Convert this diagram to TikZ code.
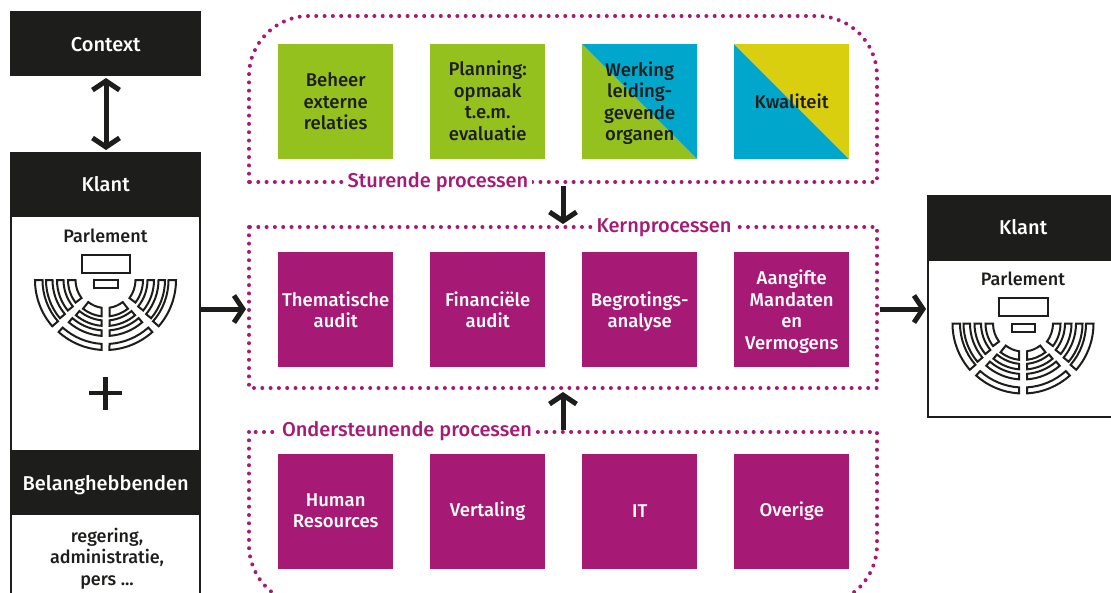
\documentclass[tikz,border=0pt]{standalone}
\usepackage{fontspec}
\setmainfont{Fira Sans Medium}
\usetikzlibrary{arrows.meta,calc}
\definecolor{ink}{HTML}{1D1D1B}
\definecolor{plum}{HTML}{A61A75}
\definecolor{leaf}{HTML}{95C11F}
\definecolor{sky}{HTML}{00A6CB}
\definecolor{mustard}{HTML}{DACF0F}
\tikzset{
  x=1pt,y=1pt,
  tile/.style={minimum width=115pt,minimum height=115pt,inner sep=0pt,align=center,anchor=north west,font=\fontsize{18.5}{21.4}\selectfont},
  plumtile/.style={tile,fill=plum,text=white},
  greentile/.style={tile,fill=leaf,text=ink},
  header/.style={fill=ink,text=white,inner sep=0pt,font=\fontsize{20}{23}\selectfont},
  panel/.style={draw=ink,line width=2.2pt,fill=white},
  dotline/.style={draw=plum,line width=4pt,line cap=round,dash pattern=on 0pt off 8.3pt},
  proclabel/.style={fill=white,text=plum,inner sep=4pt,font=\fontsize{20}{22}\selectfont},
  flow/.style={draw=ink,line width=5pt,-{Straight Barb[length=9pt,width=27pt,line width=5pt]}},
  flowboth/.style={draw=ink,line width=5pt,{Straight Barb[length=9pt,width=27pt,line width=5pt]}-{Straight Barb[length=9pt,width=27pt,line width=5pt]}},
  seat/.style={draw=ink,line width=2pt,fill=white},
  smalltext/.style={text=ink,align=center,font=\fontsize{18}{21.5}\selectfont}
}
\newcommand{\tl}[2]{\raisebox{#1}[\height][\depth]{\parbox{115pt}{\centering #2}}}
\newcommand{\hl}[2]{\raisebox{#1}[\height][\depth]{#2}}
\newcommand{\seatband}[4]{% r1 r2 a1 a2
  \draw[seat] (#3:#1) arc[start angle=#3,end angle=#4,radius=#1] -- (#4:#2) arc[start angle=#4,end angle=#3,radius=#2] -- cycle;}
\newcommand{\midband}[3]{% r1 r2 a: left centre band and right mirror
  \pgfmathsetmacro{\eo}{asin(4/#1)}\pgfmathsetmacro{\ei}{asin(4/#2)}
  \pgfmathsetmacro{\lA}{270-\eo}\pgfmathsetmacro{\lB}{270-\ei}
  \pgfmathsetmacro{\rA}{270+\eo}\pgfmathsetmacro{\rB}{270+\ei}
  \pgfmathsetmacro{\mA}{540-#3}
  \draw[seat] (#3:#1) arc[start angle=#3,end angle=\lA,radius=#1] -- (\lB:#2) arc[start angle=\lB,end angle=#3,radius=#2] -- cycle;
  \draw[seat] (\mA:#1) arc[start angle=\mA,end angle=\rA,radius=#1] -- (\rB:#2) arc[start angle=\rB,end angle=\mA,radius=#2] -- cycle;}
\newcommand{\parliament}[2]{%
 \begin{scope}[shift={(#1,#2)}]
  \draw[seat] (-24,25.3) rectangle (24.5,7.3);
  \draw[seat] (-11.3,-0.3) rectangle (12.2,-8.3);
  \seatband{70.5}{63}{180}{221}\seatband{59.5}{53}{180}{220}\seatband{48.5}{42}{180}{219}\seatband{37.5}{30}{180}{217}
  \seatband{70.5}{63}{360}{319}\seatband{59.5}{53}{360}{320}\seatband{48.5}{42}{360}{321}\seatband{37.5}{30}{360}{323}
  \midband{70}{64}{228}\midband{56}{50.5}{229}\midband{46}{40.5}{230}\midband{36.5}{28}{232}
 \end{scope}}
\begin{document}
\begin{tikzpicture}
\useasboundingbox (0,0) rectangle (1111,-592);
\clip (0,0) rectangle (1111,-592);
% left column
\node[header,minimum width=191pt,minimum height=65pt,anchor=north west] (context) at (10,-11) {\hl{-1pt}{Context}};
\node[panel,minimum width=188.8pt,minimum height=460pt,anchor=north west,inner sep=0pt] (klantpanel) at (10,-152) {};
\node[header,minimum width=191pt,minimum height=65pt,anchor=north west] (klant) at (10,-152) {\hl{1pt}{Klant}};
\node[smalltext] (parl) at (105.5,-236) {Parlement};
\parliament{105.5}{-280}
\node[inner sep=0pt] (plus) at (105.5,-393) {};
\draw[ink,line width=4.6pt] (89,-393) -- (122,-393) (105.5,-376.5) -- (105.5,-409.5);
\node[header,minimum width=191pt,minimum height=65pt,anchor=north west] (belang) at (10,-450) {\hl{-2pt}{Belanghebbenden}};
\node[smalltext] (reg) at (107,-558.5) {regering,\\administratie,\\pers ...};
% right column
\node[panel,minimum width=200pt,minimum height=220.8pt,anchor=north west,inner sep=0pt] (klantpanelr) at (927,-195) {};
\node[header,minimum width=200pt,minimum height=66pt,anchor=north west] (klantr) at (927,-195) {\hspace*{-8pt}\hl{1pt}{Klant}};
\node[smalltext] (parlr) at (1023,-279) {Parlement};
\parliament{1023}{-323.5}
% dotted frames
\draw[dotline] (249,-182) -- (249,-76) arc[start angle=180,end angle=90,radius=60] -- (817,-16) arc[start angle=90,end angle=0,radius=60] -- (877,-182) -- cycle;
\draw[dotline] (249,-227) rectangle (877,-388);
\draw[dotline] (249,-432) -- (249,-545) arc[start angle=180,end angle=270,radius=60] -- (817,-605) arc[start angle=270,end angle=360,radius=60] -- (877,-432) -- cycle;
% labels
\node[proclabel] (sturend) at (438,-182) {Sturende processen};
\node[proclabel] (kern) at (664,-228) {Kernprocessen};
\node[proclabel] (onder) at (407,-431) {Ondersteunende processen};
% top tiles
\node[greentile] (t1) at (278,-44) {\tl{0.5pt}{Beheer\\externe\\relaties}};
\node[greentile] (t2) at (430,-44) {\tl{1pt}{Planning:\\opmaak\\t.e.m.\\evaluatie}};
\node[tile,text=ink,path picture={
   \fill[leaf] (path picture bounding box.north west) -- (path picture bounding box.south east) -- (path picture bounding box.south west) -- cycle;
   \fill[sky] (path picture bounding box.north west) -- (path picture bounding box.south east) -- (path picture bounding box.north east) -- cycle;}] (t3) at (582,-44) {\tl{-1.5pt}{Werking\\leiding-\\gevende\\organen}};
\node[tile,text=ink,path picture={
   \fill[sky] (path picture bounding box.north west) -- (path picture bounding box.south east) -- (path picture bounding box.south west) -- cycle;
   \fill[mustard] (path picture bounding box.north west) -- (path picture bounding box.south east) -- (path picture bounding box.north east) -- cycle;}] (t4) at (734,-44) {\tl{0pt}{Kwaliteit}};
% middle tiles
\node[plumtile] (m1) at (278,-252) {\tl{0pt}{Thematische\\audit}};
\node[plumtile] (m2) at (430,-252) {\tl{0pt}{Financiële\\audit}};
\node[plumtile] (m3) at (582,-252) {\tl{-2pt}{Begrotings-\\analyse}};
\node[plumtile] (m4) at (734,-252) {\tl{-2pt}{Aangifte\\Mandaten\\en\\Vermogens}};
% bottom tiles
\node[plumtile] (b1) at (278,-454) {\tl{1pt}{Human\\Resources}};
\node[plumtile] (b2) at (430,-454) {\tl{1pt}{Vertaling}};
\node[plumtile] (b3) at (582,-454) {\tl{1pt}{IT}};
\node[plumtile] (b4) at (734,-454) {\tl{1pt}{Overige}};
% connectors
\coordinate (dtop) at (563,-186);
\coordinate (dbot) at (563,-224);
\coordinate (utop) at (563,-392);
\coordinate (ubot) at (563,-430);
\coordinate (lin) at (246,-309);
\coordinate (lout) at (201,-309);
\coordinate (rin) at (926,-309);
\coordinate (rout) at (880,-309);
\coordinate (ctop) at (106,-78);
\coordinate (cbot) at (106,-150);
\draw[flowboth] (ctop) -- (cbot);
\draw[flow] (lout) -- (lin);
\draw[flow] (rout) -- (rin);
\draw[flow] (dtop) -- (dbot);
\draw[flow] (ubot) -- (utop);
\end{tikzpicture}
\end{document}
